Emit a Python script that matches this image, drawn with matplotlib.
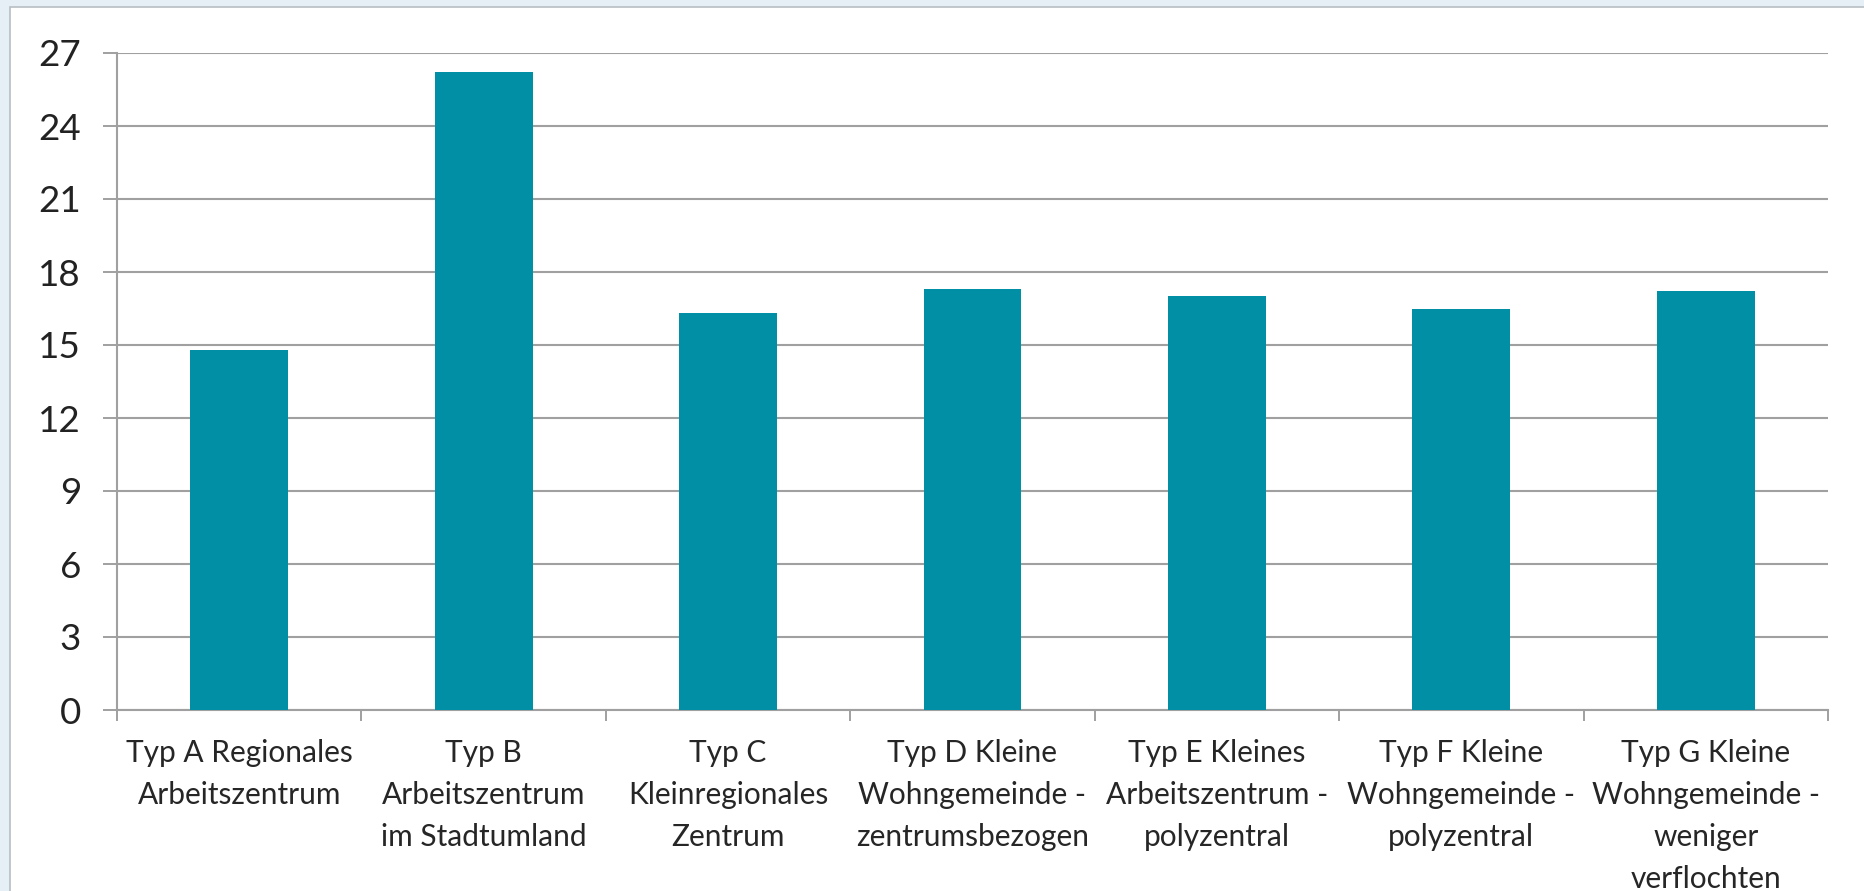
import matplotlib.pyplot as plt
import numpy as np
from matplotlib.patches import Rectangle

categories = [
    "Typ A Regionales\nArbeitszentrum",
    "Typ B\nArbeitszentrum\nim Stadtumland",
    "Typ C\nKleinregionales\nZentrum",
    "Typ D Kleine\nWohngemeinde -\nzentrumsbezogen",
    "Typ E Kleines\nArbeitszentrum -\npolyzentral",
    "Typ F Kleine\nWohngemeinde -\npolyzentral",
    "Typ G Kleine\nWohngemeinde -\nweniger\nverflochten",
]
values = [14.8, 26.2, 16.3, 17.3, 17.0, 16.5, 17.2]
yticks = [0, 3, 6, 9, 12, 15, 18, 21, 24, 27]

plt.rcParams['font.family'] = ['Lato', 'DejaVu Sans']

fig = plt.figure(figsize=(18.65, 8.91), dpi=100, facecolor='#e6eff5')

# white panel behind the chart
panel = Rectangle((10 / 1865, -0.01), 1.0, 1.01 - 7 / 891, transform=fig.transFigure,
                  facecolor='white', edgecolor='#b8bec4', linewidth=1.2, zorder=-10)
fig.patches.append(panel)

ax = fig.add_axes([117 / 1865, 1 - 710 / 891, (1828 - 117) / 1865, (710 - 53) / 891])
ax.set_facecolor('none')
ax.set_zorder(5)

x = np.arange(len(categories))
ax.bar(x, values, width=0.4, color='#008fa5', zorder=3)

ax.set_xlim(-0.5, len(categories) - 0.5)
ax.set_ylim(0, 27)
ax.set_yticks(yticks)
ax.set_yticklabels([str(v) for v in yticks], fontsize=26.5, color='#222222')
ax.tick_params(axis='y', length=10, width=1.4, color='#a0a0a0', pad=16)
ax.yaxis.grid(True, color='#a0a0a0', linewidth=1.5, zorder=0)
ax.set_axisbelow(True)

ax.set_xticks(x)
ax.set_xticklabels(categories, fontsize=21.5, color='#262626', linespacing=1.6,
                   va='top')
ax.set_xticks(np.arange(len(categories) + 1) - 0.5, minor=True)
ax.tick_params(axis='x', which='major', length=0, pad=21)
ax.tick_params(axis='x', which='minor', length=8, width=1.4, color='#a0a0a0')

for s in ['top', 'right']:
    ax.spines[s].set_visible(False)
for s in ['left', 'bottom']:
    ax.spines[s].set_color('#a0a0a0')
    ax.spines[s].set_linewidth(1.5)

plt.savefig('out.png', dpi=100, facecolor=fig.get_facecolor())
